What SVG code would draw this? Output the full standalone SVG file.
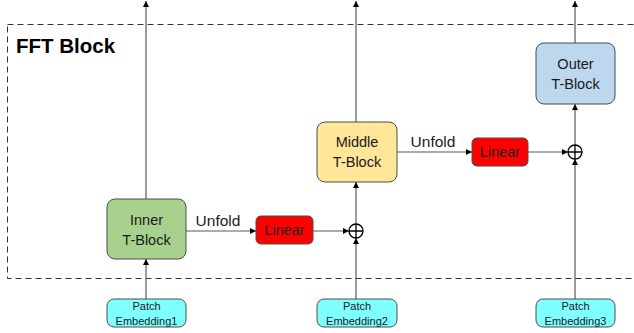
<svg xmlns="http://www.w3.org/2000/svg" width="634" height="333" viewBox="0 0 634 333">
  <defs>
    <marker id="ah" viewBox="0 0 10 10" refX="10" refY="5" markerWidth="7" markerHeight="6" markerUnits="userSpaceOnUse" orient="auto">
      <path d="M0,0 L10,5 L0,10 z" fill="#000"/>
    </marker>
  </defs>
  <style>
    .box { stroke: #4d4d4d; stroke-width: 1; }
    .lbl { font-family: "Liberation Sans", Arial, sans-serif; font-size: 14.5px; fill: #1a1a1a; text-anchor: middle; }
    .small { font-family: "Liberation Sans", Arial, sans-serif; font-size: 11px; fill: #1a1a1a; text-anchor: middle; }
    .conn { stroke: #595959; stroke-width: 1.2; fill: none; }
    .plus { stroke: #000; stroke-width: 1.3; fill: #fff; }
  </style>
  <rect width="634" height="333" fill="#fff"/>

  <!-- FFT block frame -->
  <g id="frame">
    <rect x="7.5" y="24.5" width="640" height="254" fill="none" stroke="#333" stroke-width="1" stroke-dasharray="6,4"/>
    <text x="16" y="53" font-family="Liberation Sans, Arial, sans-serif" font-size="20.5" font-weight="bold" fill="#000">FFT Block</text>
  </g>

  <!-- connectors -->
  <g id="connectors">
    <line class="conn" x1="146" y1="199" x2="146" y2="1" marker-end="url(#ah)"/>
    <line class="conn" x1="146" y1="299" x2="146" y2="259" marker-end="url(#ah)"/>
    <line class="conn" x1="186" y1="231" x2="256" y2="231" marker-end="url(#ah)"/>
    <text x="218" y="226" class="lbl" style="font-size:15.5px">Unfold</text>
    <line class="conn" x1="313" y1="231" x2="349" y2="231" marker-end="url(#ah)"/>
    <line class="conn" x1="356" y1="299" x2="356" y2="238" marker-end="url(#ah)"/>
    <line class="conn" x1="356" y1="224" x2="356" y2="182" marker-end="url(#ah)"/>
    <line class="conn" x1="356" y1="122" x2="356" y2="1" marker-end="url(#ah)"/>
    <line class="conn" x1="397" y1="152" x2="472" y2="152" marker-end="url(#ah)"/>
    <text x="433" y="147" class="lbl" style="font-size:15.5px">Unfold</text>
    <line class="conn" x1="528" y1="152" x2="568" y2="152" marker-end="url(#ah)"/>
    <line class="conn" x1="575" y1="299" x2="575" y2="159" marker-end="url(#ah)"/>
    <line class="conn" x1="575" y1="145" x2="575" y2="104" marker-end="url(#ah)"/>
    <line class="conn" x1="575" y1="43" x2="575" y2="1" marker-end="url(#ah)"/>
  </g>

  <g id="add1">
    <circle class="plus" cx="356" cy="231" r="7"/>
    <path d="M349,231 H363 M356,224 V238" stroke="#000" stroke-width="1.3"/>
  </g>
  <g id="add2">
    <circle class="plus" cx="575" cy="152" r="7"/>
    <path d="M568,152 H582 M575,145 V159" stroke="#000" stroke-width="1.3"/>
  </g>

  <g id="inner">
    <rect class="box" x="107" y="199" width="79" height="60" rx="8" fill="#A9D18E"/>
    <text class="lbl" x="146.5" y="225">Inner</text>
    <text class="lbl" x="146.5" y="245">T-Block</text>
  </g>
  <g id="linear1">
    <rect class="box" x="256" y="216" width="57" height="28" rx="5" fill="#FF0000"/>
    <text class="lbl" x="284.5" y="235">Linear</text>
  </g>
  <g id="middle">
    <rect class="box" x="317" y="122" width="80" height="60" rx="8" fill="#FFE699"/>
    <text class="lbl" x="357" y="147">Middle</text>
    <text class="lbl" x="357" y="167">T-Block</text>
  </g>
  <g id="linear2">
    <rect class="box" x="472" y="138" width="56" height="28" rx="5" fill="#FF0000"/>
    <text class="lbl" x="500" y="157">Linear</text>
  </g>
  <g id="outer">
    <rect class="box" x="536" y="43" width="79" height="61" rx="8" fill="#BDD7EE"/>
    <text class="lbl" x="575.5" y="69">Outer</text>
    <text class="lbl" x="575.5" y="89">T-Block</text>
  </g>
  <g id="patch1">
    <rect class="box" x="107" y="299" width="79" height="28" rx="7" fill="#7FFFFF"/>
    <text class="small" x="146.5" y="310">Patch</text>
    <text class="small" x="146.5" y="325">Embedding1</text>
  </g>
  <g id="patch2">
    <rect class="box" x="317" y="299" width="80" height="28" rx="7" fill="#7FFFFF"/>
    <text class="small" x="357" y="310">Patch</text>
    <text class="small" x="357" y="325">Embedding2</text>
  </g>
  <g id="patch3">
    <rect class="box" x="536" y="299" width="79" height="28" rx="7" fill="#7FFFFF"/>
    <text class="small" x="575.5" y="310">Patch</text>
    <text class="small" x="575.5" y="325">Embedding3</text>
  </g>
</svg>
